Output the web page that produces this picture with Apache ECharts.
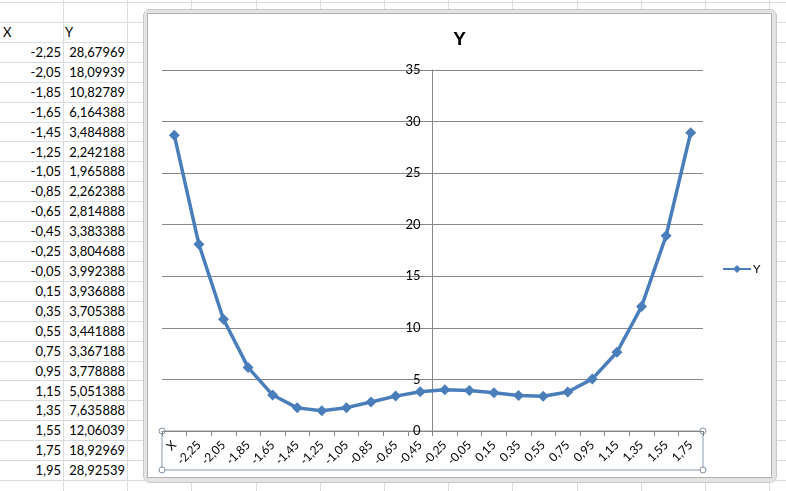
<!DOCTYPE html>
<html lang="en">
<head>
    <meta charset="UTF-8">
    <title>Y</title>
    <style>
        html, body {
            margin: 0;
            padding: 0;
            width: 786px;
            height: 491px;
            overflow: hidden;
            background: #fff;
            font-family: Lato, "Liberation Sans", sans-serif;
        }
        #sheet {
            position: absolute;
            left: 0;
            top: 0;
            width: 786px;
            height: 491px;
        }
        .hl, .vl {
            position: absolute;
            background: #dadcdd;
        }
        .cell {
            position: absolute;
            font-size: 13px;
            color: #000;
            line-height: 20px;
            height: 20px;
            white-space: nowrap;
        }
        #frame {
            position: absolute;
            left: 143px;
            top: 9px;
            width: 632px;
            height: 472px;
            background: #e4e4e4;
            border: 1px solid #c9c9c9;
            border-radius: 7px;
        }
        #chart {
            position: absolute;
            left: 148px;
            top: 14px;
            width: 623px;
            height: 463px;
            background: #fff;
            box-shadow: 0 0 0 1px #b0b0b0;
        }
    </style>
    <script src="https://cdn.jsdelivr.net/npm/echarts@6/dist/echarts.min.js"></script>
</head>
<body>
<div id="sheet"></div>
<div id="frame"></div>
<div id="chart"></div>
<script>
    var xHeader = 'X';
    var yHeader = 'Y';
    var xValues = [-2.25, -2.05, -1.85, -1.65, -1.45, -1.25, -1.05, -0.85, -0.65, -0.45, -0.25,
        -0.05, 0.15, 0.35, 0.55, 0.75, 0.95, 1.15, 1.35, 1.55, 1.75, 1.95];
    var yValues = ['28,67969', '18,09939', '10,82789', '6,164388', '3,484888', '2,242188', '1,965888',
        '2,262388', '2,814888', '3,383388', '3,804688', '3,992388', '3,936888', '3,705388', '3,441888',
        '3,367188', '3,778888', '5,051388', '7,635888', '12,06039', '18,92969', '28,92539'];
    var yTicks = [0, 5, 10, 15, 20, 25, 30, 35];

    function fmtX(v) {
        return v.toFixed(2).replace('.', ',');
    }
    function num(s) {
        return parseFloat(s.replace(',', '.'));
    }

    // spreadsheet behind the chart
    var sheet = document.getElementById('sheet');
    var html = '';
    for (var r = 0; r < 26; r++) {
        html += '<div class="hl" style="left:0;top:' + (2 + r * 19.92) + 'px;width:786px;height:1px"></div>';
    }
    for (var c = 0; c < 13; c++) {
        html += '<div class="vl" style="top:0;left:' + (63 + c * 64.2) + 'px;width:1px;height:491px"></div>';
    }
    var rowTop = function (i) { return 22 + i * 19.92; };
    html += '<div class="cell" style="left:3px;top:' + rowTop(0) + 'px">' + xHeader + '</div>';
    html += '<div class="cell" style="left:65px;top:' + rowTop(0) + 'px">' + yHeader + '</div>';
    for (var i = 0; i < xValues.length; i++) {
        html += '<div class="cell" style="right:' + (786 - 61) + 'px;top:' + rowTop(i + 1) + 'px">' + fmtX(xValues[i]) + '</div>';
        html += '<div class="cell" style="right:' + (786 - 125) + 'px;top:' + rowTop(i + 1) + 'px">' + yValues[i] + '</div>';
    }
    sheet.innerHTML = html;

    // categories: header cell plus the x column, one short (as selected in the sheet)
    var categories = [xHeader].concat(xValues.slice(0, xValues.length - 1).map(fmtX));
    var seriesData = yValues.map(num);

    var gridLeft = 14, gridTop = 56, gridWidth = 541, gridHeight = 361;
    var crossAt = 11; // vertical axis crosses before this category
    var chart = echarts.init(document.getElementById('chart'));
    var option = {
        animation: false,
        textStyle: {fontFamily: 'Lato, "Liberation Sans", sans-serif'},
        title: {
            text: 'Y',
            left: 'center',
            top: 16,
            padding: 0,
            textStyle: {fontSize: 19, fontWeight: 'bold', color: '#000', fontFamily: '"Liberation Sans", Arial, sans-serif'}
        },
        legend: {
            data: ['Y'],
            left: 574,
            top: 249,
            padding: 0,
            itemWidth: 28,
            itemHeight: 10,
            itemGap: 4,
            textStyle: {fontSize: 12, color: '#000', padding: [0, 0, 0, -3]}
        },
        grid: {
            left: gridLeft,
            top: gridTop,
            width: gridWidth,
            height: gridHeight,
            containLabel: false
        },
        xAxis: {
            type: 'category',
            data: categories,
            boundaryGap: true,
            axisLine: {lineStyle: {color: '#868686', width: 1}},
            axisTick: {show: true, length: 5, lineStyle: {color: '#868686'}},
            axisLabel: {interval: 0, rotate: 45, margin: 12, fontSize: 12, color: '#000'},
            splitLine: {show: false}
        },
        yAxis: {
            type: 'value',
            min: yTicks[0],
            max: yTicks[yTicks.length - 1],
            interval: yTicks[1] - yTicks[0],
            offset: -gridWidth / categories.length * crossAt,
            axisLine: {show: true, lineStyle: {color: '#868686', width: 1}},
            axisTick: {show: true, length: 5, lineStyle: {color: '#868686'}},
            axisLabel: {margin: 12, fontSize: 13, color: '#000'},
            splitLine: {show: true, lineStyle: {color: '#868686', width: 1}}
        },
        series: [{
            name: 'Y',
            type: 'line',
            data: seriesData,
            symbol: 'diamond',
            symbolSize: 11,
            lineStyle: {color: '#4a7ebb', width: 3.5},
            itemStyle: {color: '#4a7ebb'}
        }],
        graphic: [
            {
                type: 'rect',
                shape: {x: gridLeft, y: gridTop + gridHeight, width: gridWidth, height: 39},
                style: {fill: null, stroke: '#8c9aab', lineWidth: 1}
            },
            {type: 'circle', shape: {cx: gridLeft, cy: gridTop + gridHeight, r: 3}, style: {fill: '#fff', stroke: '#7a8fa8'}},
            {type: 'circle', shape: {cx: gridLeft + gridWidth, cy: gridTop + gridHeight, r: 3}, style: {fill: '#fff', stroke: '#7a8fa8'}},
            {type: 'circle', shape: {cx: gridLeft, cy: gridTop + gridHeight + 39, r: 3}, style: {fill: '#fff', stroke: '#7a8fa8'}},
            {type: 'circle', shape: {cx: gridLeft + gridWidth, cy: gridTop + gridHeight + 39, r: 3}, style: {fill: '#fff', stroke: '#7a8fa8'}}
        ]
    };
    chart.setOption(option);
</script>
</body>
</html>
